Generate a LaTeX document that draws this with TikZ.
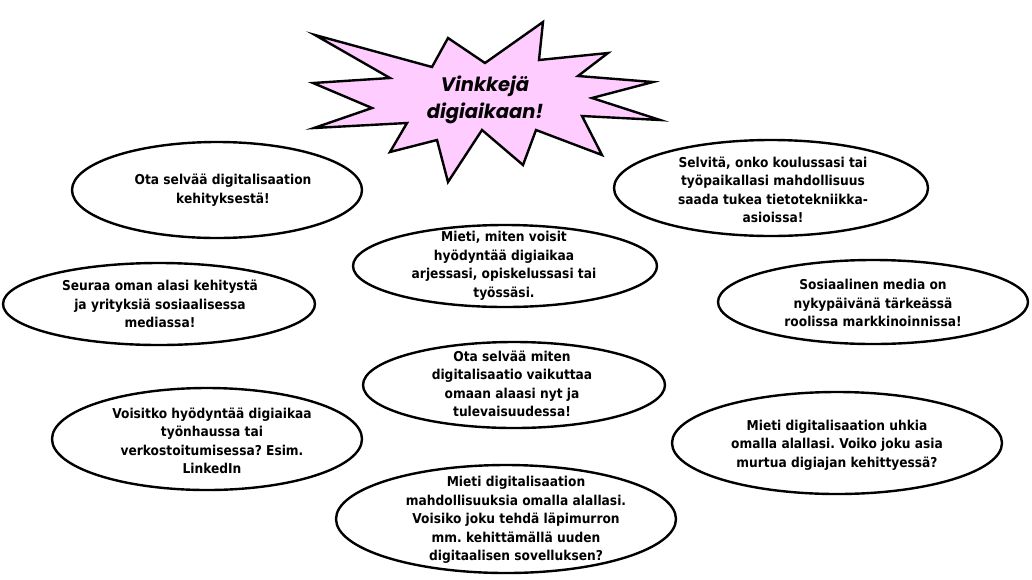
\documentclass[tikz,border=0pt]{standalone}
\usepackage{fontspec}
\setmainfont{DejaVu Sans}[FakeStretch=0.9]
\newfontfamily\starfont{Poppins}
\usetikzlibrary{shapes.geometric}
\definecolor{starpink}{HTML}{FFCCFF}
\tikzset{
  bubble/.style={draw=black, line width=2.4pt, ellipse, inner sep=0pt, fill=white},
  bubbletext/.style={inner sep=0pt, align=center, font=\frenchspacing\fontsize{13.6}{18.5}\selectfont\bfseries},
  startext/.style={inner sep=0pt, align=center, font=\starfont\fontsize{19.5}{26.5}\selectfont\bfseries\itshape},
}
\begin{document}
\frenchspacing
\begin{tikzpicture}[x=1pt,y=-1pt]
\useasboundingbox (0,0) rectangle (1032,579);
% star
\draw[line width=2.4pt, line join=miter, miter limit=20, fill=starpink]
  (315,35) -- (432,67) -- (448,38) -- (485,63) -- (543,22) -- (539,60)
  -- (608,53) -- (578,76) -- (653,82) -- (592,98) -- (660,120) -- (582,116)
  -- (602,155) -- (536,130) -- (523,165) -- (482,130) -- (448,182) -- (437,140)
  -- (390,152) -- (407,123) -- (314,128) -- (372,108) -- (313,83) -- (390,78) -- cycle;
\node[startext] (title) at (485,100) {Vinkkejä\\digiaikaan!};
% bubbles
\node[bubble, minimum width=290pt, minimum height=96pt] (e1) at (217,190) {};
\node[bubbletext] (t1) at (223,190) {Ota selvää digitalisaation\\kehityksestä!};
\node[bubble, minimum width=312pt, minimum height=82pt] (e2) at (159,304) {};
\node[bubbletext] (t2) at (160,304) {Seuraa oman alasi kehitystä\\ja yrityksiä sosiaalisessa\\mediassa!};
\node[bubble, minimum width=314pt, minimum height=96pt] (e3) at (771,188) {};
\node[bubbletext] (t3) at (773,190) {Selvitä, onko koulussasi tai\\työpaikallasi mahdollisuus\\saada tukea tietotekniikka-\\asioissa!};
\node[bubble, minimum width=310pt, minimum height=84pt] (e4) at (873,302) {};
\node[bubbletext] (t4) at (873,303) {Sosiaalinen media on\\nykypäivänä tärkeässä\\roolissa markkinoinnissa!};
\node[bubble, minimum width=304pt, minimum height=82pt] (e5) at (505,266) {};
\node[bubbletext] (t5) at (504,266) {Mieti, miten voisit\\hyödyntää digiaikaa\\arjessasi, opiskelussasi tai\\työssäsi.};
\node[bubble, minimum width=302pt, minimum height=86pt] (e6) at (514,385) {};
\node[bubbletext] (t6) at (512,384) {Ota selvää miten\\digitalisaatio vaikuttaa\\omaan alaasi nyt ja\\tulevaisuudessa!};
\node[bubble, minimum width=310pt, minimum height=102pt] (e7) at (207,439) {};
\node[bubbletext] (t7) at (212,441) {Voisitko hyödyntää digiaikaa\\työnhaussa tai\\verkostoitumisessa? Esim.\\LinkedIn};
\node[bubble, minimum width=340pt, minimum height=108pt] (e8) at (506,519) {};
\node[bubbletext] (t8) at (516,520) {Mieti digitalisaation\\mahdollisuuksia omalla alallasi.\\Voisiko joku tehdä läpimurron\\mm. kehittämällä uuden\\digitaalisen sovelluksen?};
\node[bubble, minimum width=330pt, minimum height=102pt] (e9) at (837,443) {};
\node[bubbletext] (t9) at (837,445) {Mieti digitalisaation uhkia\\omalla alallasi. Voiko joku asia\\murtua digiajan kehittyessä?};
\end{tikzpicture}
\end{document}
